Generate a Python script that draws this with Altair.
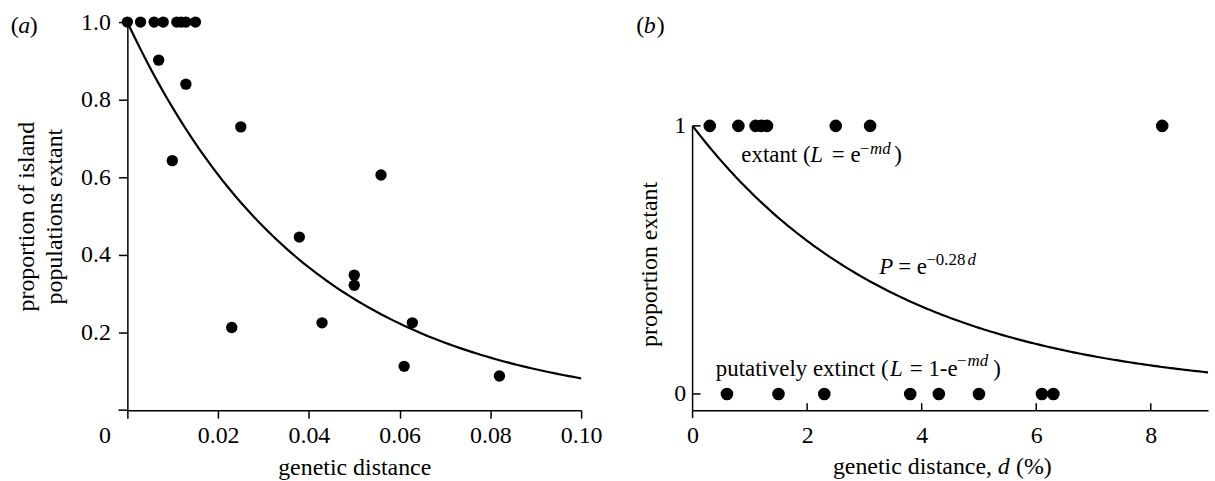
import altair as alt
import pandas as pd

# ---------------- panel (a) data ----------------
a_distance = [0.0, 0.0029, 0.0059, 0.0079, 0.0109, 0.0119, 0.0129, 0.0150,
              0.0069, 0.0129, 0.0250, 0.0099, 0.0559, 0.0379, 0.0500, 0.0500,
              0.0230, 0.0429, 0.0628, 0.0610, 0.0820]
a_proportion = [1.0, 1.0, 1.0, 1.0, 1.0, 1.0, 1.0, 1.0,
                0.902, 0.840, 0.730, 0.643, 0.606, 0.446, 0.348, 0.322,
                0.213, 0.225, 0.225, 0.113, 0.088]
a_rate = 25.0
a_xticks = [0, 0.02, 0.04, 0.06, 0.08, 0.10]
a_yticks = [0.2, 0.4, 0.6, 0.8, 1.0]

# ---------------- panel (b) data ----------------
b_extant = [0.3, 0.8, 1.1, 1.2, 1.3, 2.5, 3.1, 8.2]
b_extinct = [0.6, 1.5, 2.3, 3.8, 4.3, 5.0, 6.1, 6.3]
b_rate = 0.28
b_xticks = [0, 2, 4, 6, 8]
b_yticks = [0, 1]

FONT = "Liberation Serif"
FS = 24      # axis text
AFS = 23     # annotation text
SUP = 17     # superscripts
H = 390
WA = 456
WB = 518
ONE = pd.DataFrame({"k": [0]})


def seg(text, x, y, italic=False, size=AFS):
    return alt.Chart(ONE).mark_text(
        text=text, font=FONT, fontSize=size,
        fontStyle="italic" if italic else "normal",
        align="left", baseline="alphabetic", color="black",
    ).encode(x=x, y=y)


# ---------------- panel (a) ----------------
df_a = pd.DataFrame({"d": a_distance, "p": a_proportion})
xa_scale = alt.Scale(domain=[0, 0.1], nice=False, zero=False)
ya_scale = alt.Scale(domain=[0, 1], nice=False, zero=False)

curve_a = alt.Chart(alt.sequence(0, 0.1005, 0.001, as_="d")).transform_calculate(
    p=f"exp(-{a_rate} * datum.d)"
).mark_line(color="black", strokeWidth=2.2).encode(
    x=alt.X("d:Q", scale=xa_scale), y=alt.Y("p:Q", scale=ya_scale)
)

pts_a = alt.Chart(df_a).mark_circle(size=130, color="black", opacity=1).encode(
    x=alt.X("d:Q", scale=xa_scale, axis=alt.Axis(
        values=a_xticks,
        labelExpr="datum.value == 0 ? '0' : format(datum.value, '.2f')",
        labelOffset={"condition": {"test": "datum.value == 0", "value": -23}, "value": 0},
        tickSize=8, labelPadding=5, labelFlush=False,
        title="genetic distance", titlePadding=9)),
    y=alt.Y("p:Q", scale=ya_scale, axis=alt.Axis(
        values=a_yticks, format=".1f", tickSize=9, labelPadding=8,
        title=["proportion of island", "populations extant"],
        titlePadding=14, titleLineHeight=28)),
)

ext_a = alt.Chart(ONE).mark_rule(color="black", strokeWidth=1.5).encode(
    x=alt.value(-9), x2=alt.value(0), y=alt.value(H)
)

chart_a = alt.layer(
    curve_a, pts_a, ext_a,
    seg("(", alt.value(-117.3), alt.value(11), size=FS),
    seg("a", alt.value(-109.6), alt.value(11), italic=True, size=FS),
    seg(")", alt.value(-98), alt.value(11), size=FS),
).properties(width=WA, height=H)

# ---------------- panel (b) ----------------
df_b = pd.DataFrame({"d": b_extant + b_extinct,
                     "p": [1] * len(b_extant) + [0] * len(b_extinct)})
xb_scale = alt.Scale(domain=[0, 9], nice=False, zero=False)
yb_scale = alt.Scale(domain=[-0.0605, 1.3872], nice=False, zero=False)

curve_b = alt.Chart(alt.sequence(0, 9.01, 0.05, as_="d")).transform_calculate(
    p=f"exp(-{b_rate} * datum.d)"
).mark_line(color="black", strokeWidth=2.2).encode(
    x=alt.X("d:Q", scale=xb_scale), y=alt.Y("p:Q", scale=yb_scale)
)

pts_b = alt.Chart(df_b).mark_circle(size=160, color="black", opacity=1).encode(
    x=alt.X("d:Q", scale=xb_scale, axis=alt.Axis(
        values=b_xticks, format="d", ticks=False, labelPadding=13,
        labelFlush=False, title=None)),
    y=alt.Y("p:Q", scale=yb_scale, axis=alt.Axis(
        values=b_yticks, format="d", ticks=False, domain=False, labelPadding=7,
        title="proportion extant", titlePadding=12, titleY=243)),
)

yaxis_b = alt.Chart(ONE).mark_rule(color="black", strokeWidth=1.5).encode(
    x=alt.value(0), y=alt.datum(1), y2=alt.value(H)
)
yticks_b = alt.Chart(pd.DataFrame({"p": b_yticks})).mark_rule(
    color="black", strokeWidth=1.5).encode(x=alt.value(0), x2=alt.value(8), y="p:Q")
xticks_b = alt.Chart(pd.DataFrame({"d": b_xticks[1:]})).mark_rule(
    color="black", strokeWidth=1.5).encode(x="d:Q", y=alt.value(H - 7), y2=alt.value(H))
xtick0_b = alt.Chart(ONE).mark_rule(color="black", strokeWidth=1.5).encode(
    x=alt.datum(0), y=alt.value(H), y2=alt.value(H + 8))

ann_b = [
    # extant (L = e^-md)
    seg("extant (", alt.datum(0.851), alt.datum(0.864)),
    seg("L", alt.datum(2.055), alt.datum(0.864), italic=True),
    seg("= e", alt.datum(2.432), alt.datum(0.864)),
    seg("\u2212md", alt.datum(2.90), alt.datum(0.895), italic=True, size=SUP),
    seg(")", alt.datum(3.522), alt.datum(0.864)),
    # P = e^-0.28d
    seg("P", alt.datum(3.261), alt.datum(0.449), italic=True),
    seg("= e", alt.datum(3.591), alt.datum(0.449)),
    seg("\u22120.28", alt.datum(4.08), alt.datum(0.480), size=SUP),
    seg("d", alt.datum(4.80), alt.datum(0.480), italic=True, size=SUP),
    # putatively extinct (L = 1-e^-md)
    seg("putatively extinct (", alt.datum(0.405), alt.datum(0.066)),
    seg("L", alt.datum(3.445), alt.datum(0.066), italic=True),
    seg("= 1-e", alt.datum(3.793), alt.datum(0.066)),
    seg("\u2212md", alt.datum(4.60), alt.datum(0.103), italic=True, size=SUP),
    seg(")", alt.datum(5.25), alt.datum(0.066)),
    # x-axis title
    seg("genetic distance,", alt.datum(2.45), alt.value(454.3), size=FS),
    seg("d", alt.datum(5.33), alt.value(454.3), italic=True, size=FS),
    seg("(%)", alt.datum(5.646), alt.value(454.3), size=FS),
    # panel label
    seg("(", alt.value(-56.7), alt.value(11), size=FS),
    seg("b", alt.value(-49), alt.value(11), italic=True, size=FS),
    seg(")", alt.value(-36), alt.value(11), size=FS),
]

chart_b = alt.layer(
    curve_b, pts_b, yaxis_b, yticks_b, xticks_b, xtick0_b, *ann_b
).properties(width=WB, height=H)

chart = alt.hconcat(chart_a, chart_b, spacing=112, bounds="flush").properties(
    padding={"left": 10, "top": 8, "right": 2, "bottom": 2}
).configure_axis(
    labelFont=FONT, labelFontSize=FS, titleFont=FONT, titleFontSize=FS,
    titleFontWeight="normal", labelColor="black", titleColor="black",
    domainColor="black", tickColor="black", domainWidth=1.5, tickWidth=1.5,
    grid=False,
).configure_view(stroke="transparent")

chart.save("out.html", embed_options={"renderer": "svg", "actions": False})
